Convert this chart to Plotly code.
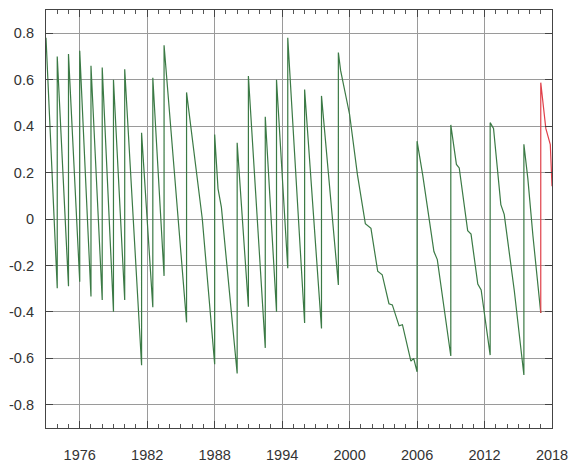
import plotly.graph_objects as go

green_years = [
    1973.0,
    1974.0, 1974.0, 1975.0, 1975.0, 1976.0, 1976.0, 1977.0, 1977.0,
    1978.0, 1978.0, 1979.0, 1979.0, 1980.0, 1980.0, 1981.5, 1981.5,
    1982.5, 1982.5, 1983.5, 1983.5, 1985.5, 1985.5, 1986.9, 1988.0, 1988.0,
    1988.3, 1988.6, 1990.0, 1990.0, 1991.0, 1991.0, 1992.5, 1992.5,
    1993.5, 1993.5, 1994.5, 1994.5, 1996.0, 1996.0, 1997.5, 1997.5,
    1999.0, 1999.0, 1999.2, 2000.0, 2000.7, 2001.4, 2001.9, 2002.5, 2002.9,
    2003.5, 2003.8, 2004.4, 2004.7, 2005.45, 2005.7, 2006.0, 2006.0,
    2006.5, 2007.5, 2007.8, 2009.0, 2009.0,
    2009.5, 2009.75, 2010.5, 2010.8, 2011.4, 2011.7, 2012.5, 2012.5,
    2012.8, 2013.45, 2013.75, 2014.65, 2015.5, 2015.5,
    2015.85, 2016.3, 2017.0,
]
green_values = [
    0.78,
    -0.298, 0.70, -0.29, 0.71, -0.27, 0.724, -0.334, 0.66,
    -0.349, 0.652, -0.399, 0.60, -0.349, 0.645, -0.63, 0.371,
    -0.38, 0.608, -0.245, 0.748, -0.445, 0.545, 0.0, -0.625, 0.364,
    0.13, 0.05, -0.665, 0.328, -0.378, 0.616, -0.555, 0.44,
    -0.399, 0.60, -0.212, 0.78, -0.448, 0.558, -0.471, 0.53,
    -0.284, 0.717, 0.64, 0.45, 0.19, -0.02, -0.04, -0.225, -0.24,
    -0.365, -0.37, -0.46, -0.455, -0.612, -0.60, -0.658, 0.335,
    0.19, -0.14, -0.175, -0.59, 0.405,
    0.235, 0.22, -0.05, -0.065, -0.28, -0.305, -0.586, 0.415,
    0.39, 0.062, 0.02, -0.31, -0.672, 0.322,
    0.175, -0.07, -0.405,
]

# Predicted series (red)
red_years = [2017.0, 2017.0, 2017.45, 2017.85, 2018.0]
red_values = [-0.405, 0.587, 0.39, 0.32, 0.141]

x_tick_years = [1976, 1982, 1988, 1994, 2000, 2006, 2012, 2018]
x_tick_labels = [str(y) for y in x_tick_years]
y_tick_values = [-0.8, -0.6, -0.4, -0.2, 0, 0.2, 0.4, 0.6, 0.8]
y_tick_labels = ["-0.8", "-0.6", "-0.4", "-0.2", "0", "0.2", "0.4", "0.6", "0.8"]

fig = go.Figure()
fig.add_trace(go.Scatter(x=green_years, y=green_values, mode="lines",
                         line=dict(color="#3b7a45", width=1.2), showlegend=False))
fig.add_trace(go.Scatter(x=red_years, y=red_values, mode="lines",
                         line=dict(color="#e0404a", width=1.2), showlegend=False))

font = dict(family="Liberation Sans, Arial, sans-serif", size=14.5, color="#333333")

fig.update_layout(
    width=569, height=461,
    margin=dict(l=46, r=17, t=10, b=33),
    paper_bgcolor="white", plot_bgcolor="white",
    font=font,
    xaxis=dict(
        range=[1973, 2018], tickmode="array", tickvals=x_tick_years, ticktext=x_tick_labels,
        showgrid=True, gridcolor="#9a9a9a", gridwidth=1, automargin=False,
        zeroline=False, showline=True, linecolor="#444444", linewidth=1.2, mirror="allticks",
        ticks="inside", ticklen=7, tickcolor="#444444", ticklabelstandoff=13,
        minor=dict(dtick=1, tick0=1973, ticks="inside", ticklen=4, tickcolor="#555555", showgrid=False),
    ),
    yaxis=dict(
        range=[-0.9, 0.9], tickmode="array", tickvals=y_tick_values, ticktext=y_tick_labels,
        showgrid=True, gridcolor="#9a9a9a", gridwidth=1, automargin=False,
        zeroline=False, showline=True, linecolor="#444444", linewidth=1.2, mirror="allticks",
        ticks="inside", ticklen=7, tickcolor="#444444", ticklabelstandoff=8,
    ),
)

fig.write_html(
    "out.html",
    config={"displayModeBar": False},
    post_script="document.body.style.margin='0';document.body.style.overflow='hidden';",
)
